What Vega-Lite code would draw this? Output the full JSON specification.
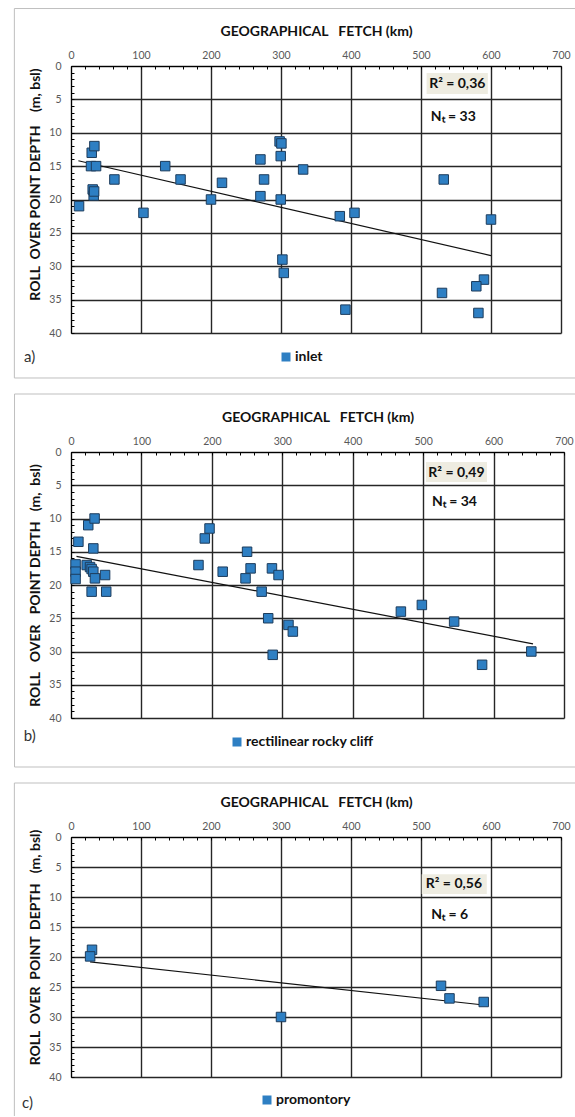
{
  "$schema": "https://vega.github.io/schema/vega-lite/v6.json",
  "autosize": {"type": "pad"},
  "padding": {"left": 13, "top": 8, "right": 0, "bottom": 0},
  "bounds": "flush",
  "spacing": 119,
  "background": "white",
  "resolve": {"scale": {"fill": "independent"}},
  "config": {
    "font": "Lato",
    "view": {"stroke": null},
    "axis": {
      "domainColor": "#000000",
      "domainWidth": 1,
      "gridColor": "#262626",
      "gridWidth": 1.4,
      "tickColor": "#000000",
      "tickWidth": 1,
      "labelFont": "Lato",
      "labelFontSize": 10.5,
      "labelColor": "#595959",
      "labelFlush": false,
      "labelOverlap": false,
      "titleFont": "Lato",
      "titleFontSize": 14,
      "titleFontWeight": "bold",
      "titleColor": "#111111"
    },
    "legend": {
      "orient": "none",
      "title": null,
      "padding": 0,
      "symbolType": "square",
      "symbolSize": 81,
      "symbolStrokeWidth": 0,
      "symbolStrokeColor": "transparent",
      "labelFont": "Lato",
      "labelFontSize": 14,
      "labelFontWeight": "bold",
      "labelColor": "#111111",
      "labelOffset": 2
    }
  },
  "datasets": {
    "points": [
      {"panel": "a", "type": "inlet", "fetch": 11.5, "depth": 21.0},
      {"panel": "a", "type": "inlet", "fetch": 29.6, "depth": 13.0},
      {"panel": "a", "type": "inlet", "fetch": 33.4, "depth": 12.0},
      {"panel": "a", "type": "inlet", "fetch": 28.6, "depth": 15.0},
      {"panel": "a", "type": "inlet", "fetch": 35.8, "depth": 15.0},
      {"panel": "a", "type": "inlet", "fetch": 31.0, "depth": 18.5},
      {"panel": "a", "type": "inlet", "fetch": 32.4, "depth": 19.4},
      {"panel": "a", "type": "inlet", "fetch": 33.0, "depth": 18.8},
      {"panel": "a", "type": "inlet", "fetch": 62.0, "depth": 17.0},
      {"panel": "a", "type": "inlet", "fetch": 103.5, "depth": 22.0},
      {"panel": "a", "type": "inlet", "fetch": 134.6, "depth": 15.0},
      {"panel": "a", "type": "inlet", "fetch": 156.5, "depth": 17.0},
      {"panel": "a", "type": "inlet", "fetch": 200.0, "depth": 20.0},
      {"panel": "a", "type": "inlet", "fetch": 215.7, "depth": 17.5},
      {"panel": "a", "type": "inlet", "fetch": 270.6, "depth": 14.0},
      {"panel": "a", "type": "inlet", "fetch": 275.8, "depth": 17.0},
      {"panel": "a", "type": "inlet", "fetch": 270.6, "depth": 19.5},
      {"panel": "a", "type": "inlet", "fetch": 298.0, "depth": 11.3},
      {"panel": "a", "type": "inlet", "fetch": 300.6, "depth": 11.6},
      {"panel": "a", "type": "inlet", "fetch": 299.6, "depth": 13.5},
      {"panel": "a", "type": "inlet", "fetch": 299.6, "depth": 20.0},
      {"panel": "a", "type": "inlet", "fetch": 331.6, "depth": 15.5},
      {"panel": "a", "type": "inlet", "fetch": 302.0, "depth": 29.0},
      {"panel": "a", "type": "inlet", "fetch": 304.0, "depth": 31.0},
      {"panel": "a", "type": "inlet", "fetch": 384.0, "depth": 22.5},
      {"panel": "a", "type": "inlet", "fetch": 405.0, "depth": 22.0},
      {"panel": "a", "type": "inlet", "fetch": 392.0, "depth": 36.5},
      {"panel": "a", "type": "inlet", "fetch": 532.5, "depth": 17.0},
      {"panel": "a", "type": "inlet", "fetch": 530.0, "depth": 34.0},
      {"panel": "a", "type": "inlet", "fetch": 600.0, "depth": 23.0},
      {"panel": "a", "type": "inlet", "fetch": 590.0, "depth": 32.0},
      {"panel": "a", "type": "inlet", "fetch": 579.0, "depth": 33.0},
      {"panel": "a", "type": "inlet", "fetch": 582.0, "depth": 37.0},

      {"panel": "b", "type": "rectilinear rocky cliff", "fetch": 10.5, "depth": 13.5},
      {"panel": "b", "type": "rectilinear rocky cliff", "fetch": 24.5, "depth": 11.0},
      {"panel": "b", "type": "rectilinear rocky cliff", "fetch": 33.5, "depth": 10.0},
      {"panel": "b", "type": "rectilinear rocky cliff", "fetch": 31.7, "depth": 14.5},
      {"panel": "b", "type": "rectilinear rocky cliff", "fetch": 6.5, "depth": 16.9},
      {"panel": "b", "type": "rectilinear rocky cliff", "fetch": 6.5, "depth": 18.0},
      {"panel": "b", "type": "rectilinear rocky cliff", "fetch": 6.5, "depth": 19.1},
      {"panel": "b", "type": "rectilinear rocky cliff", "fetch": 22.3, "depth": 17.0},
      {"panel": "b", "type": "rectilinear rocky cliff", "fetch": 27.0, "depth": 17.3},
      {"panel": "b", "type": "rectilinear rocky cliff", "fetch": 29.3, "depth": 17.6},
      {"panel": "b", "type": "rectilinear rocky cliff", "fetch": 31.7, "depth": 18.0},
      {"panel": "b", "type": "rectilinear rocky cliff", "fetch": 34.0, "depth": 19.0},
      {"panel": "b", "type": "rectilinear rocky cliff", "fetch": 29.3, "depth": 21.0},
      {"panel": "b", "type": "rectilinear rocky cliff", "fetch": 48.4, "depth": 18.5},
      {"panel": "b", "type": "rectilinear rocky cliff", "fetch": 50.0, "depth": 21.0},
      {"panel": "b", "type": "rectilinear rocky cliff", "fetch": 181.0, "depth": 17.0},
      {"panel": "b", "type": "rectilinear rocky cliff", "fetch": 190.0, "depth": 13.0},
      {"panel": "b", "type": "rectilinear rocky cliff", "fetch": 196.7, "depth": 11.5},
      {"panel": "b", "type": "rectilinear rocky cliff", "fetch": 215.4, "depth": 18.0},
      {"panel": "b", "type": "rectilinear rocky cliff", "fetch": 250.0, "depth": 15.0},
      {"panel": "b", "type": "rectilinear rocky cliff", "fetch": 247.8, "depth": 19.0},
      {"panel": "b", "type": "rectilinear rocky cliff", "fetch": 255.0, "depth": 17.5},
      {"panel": "b", "type": "rectilinear rocky cliff", "fetch": 270.7, "depth": 21.0},
      {"panel": "b", "type": "rectilinear rocky cliff", "fetch": 285.3, "depth": 17.5},
      {"panel": "b", "type": "rectilinear rocky cliff", "fetch": 294.7, "depth": 18.5},
      {"panel": "b", "type": "rectilinear rocky cliff", "fetch": 280.0, "depth": 25.0},
      {"panel": "b", "type": "rectilinear rocky cliff", "fetch": 286.4, "depth": 30.5},
      {"panel": "b", "type": "rectilinear rocky cliff", "fetch": 308.8, "depth": 26.0},
      {"panel": "b", "type": "rectilinear rocky cliff", "fetch": 315.0, "depth": 27.0},
      {"panel": "b", "type": "rectilinear rocky cliff", "fetch": 468.4, "depth": 24.0},
      {"panel": "b", "type": "rectilinear rocky cliff", "fetch": 498.2, "depth": 23.0},
      {"panel": "b", "type": "rectilinear rocky cliff", "fetch": 544.0, "depth": 25.5},
      {"panel": "b", "type": "rectilinear rocky cliff", "fetch": 583.7, "depth": 32.0},
      {"panel": "b", "type": "rectilinear rocky cliff", "fetch": 653.6, "depth": 30.0},

      {"panel": "c", "type": "promontory", "fetch": 30.0, "depth": 18.8},
      {"panel": "c", "type": "promontory", "fetch": 27.3, "depth": 19.9},
      {"panel": "c", "type": "promontory", "fetch": 300.0, "depth": 30.0},
      {"panel": "c", "type": "promontory", "fetch": 528.6, "depth": 24.8},
      {"panel": "c", "type": "promontory", "fetch": 540.7, "depth": 26.9},
      {"panel": "c", "type": "promontory", "fetch": 589.6, "depth": 27.5}
    ],
    "trend": [
      {"panel": "a", "fetch": 10.5, "depth": 14.2},
      {"panel": "a", "fetch": 600.0, "depth": 28.4},
      {"panel": "b", "fetch": 7.8, "depth": 15.7},
      {"panel": "b", "fetch": 656.0, "depth": 28.85},
      {"panel": "c", "fetch": 27.3, "depth": 20.8},
      {"panel": "c", "fetch": 589.6, "depth": 28.0}
    ]
  },
  "vconcat": [
    {
      "width": 490,
      "height": 267,
      "resolve": {"axis": {"x": "independent", "y": "independent"}},
      "layer": [
        {
          "data": {"name": "points"},
          "transform": [{"filter": "datum.panel === 'a'"}],
          "mark": {"type": "point", "shape": "square", "filled": true, "size": 90, "opacity": 0},
          "encoding": {
            "x": {
              "field": "fetch", "type": "quantitative",
              "scale": {"domain": [0, 700], "nice": false, "zero": false},
              "axis": {
                "orient": "top",
                "title": "GEOGRAPHICAL\u00a0\u00a0\u00a0FETCH (km)",
                "values": [0, 20, 40, 60, 80, 100, 120, 140, 160, 180, 200, 220, 240, 260, 280, 300, 320, 340, 360, 380, 400, 420, 440, 460, 480, 500, 520, 540, 560, 580, 600, 620, 640, 660, 680, 700],
                "labelExpr": "datum.value % 100 === 0 ? datum.label : ''",
                "labelOverlap": false,
                "grid": true,
                "gridOpacity": {"condition": {"test": "datum.value % 100 === 0", "value": 1}, "value": 0},
                "tickSize": -3,
                "labelPadding": 9,
                "titlePadding": 12
              }
            },
            "y": {
              "field": "depth", "type": "quantitative",
              "scale": {"domain": [0, 40], "nice": false, "reverse": true},
              "axis": {
                "title": "ROLL\u00a0\u00a0OVER POINT DEPTH\u00a0\u00a0\u00a0\u00a0(m, bsl)",
                "values": [0, 1, 2, 3, 4, 5, 6, 7, 8, 9, 10, 11, 12, 13, 14, 15, 16, 17, 18, 19, 20, 21, 22, 23, 24, 25, 26, 27, 28, 29, 30, 31, 32, 33, 34, 35, 36, 37, 38, 39, 40],
                "labelExpr": "datum.value % 5 === 0 ? datum.label : ''",
                "labelOverlap": false,
                "grid": true,
                "gridOpacity": {"condition": {"test": "datum.value % 5 === 0", "value": 1}, "value": 0},
                "tickSize": -3,
                "labelPadding": 13,
                "titlePadding": 6,
                "titleY": 118
              }
            },
            "fill": {
              "field": "type", "type": "nominal",
              "scale": {"domain": ["inlet"], "range": ["#2E7FC3"]},
              "legend": {"legendX": 208, "legendY": 284}
            }
          }
        },
        {
          "data": {"values": [{}]},
          "mark": {"type": "rule", "color": "#BFBFBF", "strokeWidth": 1, "clip": false},
          "encoding": {
            "x": {"datum": -80.9, "type": "quantitative", "axis": null},
            "x2": {"datum": 721.4},
            "y": {"datum": -8.61, "type": "quantitative", "axis": null}
          }
        },
        {
          "data": {"values": [{}]},
          "mark": {"type": "rule", "color": "#BFBFBF", "strokeWidth": 1, "clip": false},
          "encoding": {
            "x": {"datum": -80.9, "type": "quantitative", "axis": null},
            "x2": {"datum": 721.4},
            "y": {"datum": 46.74, "type": "quantitative", "axis": null}
          }
        },
        {
          "data": {"values": [{}]},
          "mark": {"type": "rule", "color": "#BFBFBF", "strokeWidth": 1, "clip": false},
          "encoding": {
            "x": {"datum": -80.9, "type": "quantitative", "axis": null},
            "y": {"datum": -8.61, "type": "quantitative", "axis": null},
            "y2": {"datum": 46.74}
          }
        },
        {
          "data": {"values": [{}]},
          "mark": {"type": "rect", "fill": "#EEECE1"},
          "encoding": {
            "x": {"datum": 508, "type": "quantitative", "axis": null},
            "x2": {"datum": 595.5},
            "y": {"datum": 1.05, "type": "quantitative", "axis": null},
            "y2": {"datum": 4.2}
          }
        },
        {
          "data": {"values": [{}]},
          "mark": {"type": "text", "text": "R² = 0,36", "font": "Lato", "fontSize": 14, "fontWeight": "bold", "color": "#111111", "align": "center", "baseline": "middle"},
          "encoding": {
            "x": {"datum": 551.8, "type": "quantitative", "axis": null},
            "y": {"datum": 2.7, "type": "quantitative", "axis": null}
          }
        },
        {
          "data": {"values": [{}]},
          "mark": {"type": "text", "text": "Nₜ = 33", "font": "Lato", "fontSize": 14, "fontWeight": "bold", "color": "#111111", "align": "left", "baseline": "middle"},
          "encoding": {
            "x": {"datum": 514, "type": "quantitative", "axis": null},
            "y": {"datum": 7.6, "type": "quantitative", "axis": null}
          }
        },
        {
          "data": {"values": [{}]},
          "mark": {"type": "text", "text": "a)", "font": "Lato", "fontSize": 15, "color": "#333333", "align": "left", "baseline": "middle", "clip": false},
          "encoding": {
            "x": {"datum": -67, "type": "quantitative", "axis": null},
            "y": {"datum": 43.6, "type": "quantitative", "axis": null}
          }
        },
        {
          "data": {"name": "trend"},
          "transform": [{"filter": "datum.panel === 'a'"}],
          "mark": {"type": "line", "color": "#111111", "strokeWidth": 1.2},
          "encoding": {
            "x": {"field": "fetch", "type": "quantitative", "axis": null},
            "y": {"field": "depth", "type": "quantitative", "axis": null}
          }
        },
        {
          "data": {"name": "points"},
          "transform": [{"filter": "datum.panel === 'a'"}],
          "mark": {"type": "point", "shape": "square", "filled": true, "size": 90, "opacity": 1, "stroke": "#1D3C5C", "strokeWidth": 1, "color": "#2E7FC3"},
          "encoding": {
            "x": {"field": "fetch", "type": "quantitative", "axis": null},
            "y": {"field": "depth", "type": "quantitative", "axis": null}
          }
        }
      ]
    },
    {
      "width": 493,
      "height": 266,
      "resolve": {"axis": {"x": "independent", "y": "independent"}},
      "layer": [
        {
          "data": {"name": "points"},
          "transform": [{"filter": "datum.panel === 'b'"}],
          "mark": {"type": "point", "shape": "square", "filled": true, "size": 90, "opacity": 0},
          "encoding": {
            "x": {
              "field": "fetch", "type": "quantitative",
              "scale": {"domain": [0, 700], "nice": false, "zero": false},
              "axis": {
                "orient": "top",
                "title": "GEOGRAPHICAL\u00a0\u00a0\u00a0FETCH (km)",
                "values": [0, 20, 40, 60, 80, 100, 120, 140, 160, 180, 200, 220, 240, 260, 280, 300, 320, 340, 360, 380, 400, 420, 440, 460, 480, 500, 520, 540, 560, 580, 600, 620, 640, 660, 680, 700],
                "labelExpr": "datum.value % 100 === 0 ? datum.label : ''",
                "labelOverlap": false,
                "grid": true,
                "gridOpacity": {"condition": {"test": "datum.value % 100 === 0", "value": 1}, "value": 0},
                "tickSize": -3,
                "labelPadding": 9,
                "titlePadding": 12
              }
            },
            "y": {
              "field": "depth", "type": "quantitative",
              "scale": {"domain": [0, 40], "nice": false, "reverse": true},
              "axis": {
                "title": "ROLL\u00a0\u00a0\u00a0OVER\u00a0\u00a0\u00a0POINT DEPTH\u00a0\u00a0\u00a0(m,\u00a0\u00a0bsl)",
                "values": [0, 1, 2, 3, 4, 5, 6, 7, 8, 9, 10, 11, 12, 13, 14, 15, 16, 17, 18, 19, 20, 21, 22, 23, 24, 25, 26, 27, 28, 29, 30, 31, 32, 33, 34, 35, 36, 37, 38, 39, 40],
                "labelExpr": "datum.value % 5 === 0 ? datum.label : ''",
                "labelOverlap": false,
                "grid": true,
                "gridOpacity": {"condition": {"test": "datum.value % 5 === 0", "value": 1}, "value": 0},
                "tickSize": -3,
                "labelPadding": 13,
                "titlePadding": 6
              }
            },
            "fill": {
              "field": "type", "type": "nominal",
              "scale": {"domain": ["rectilinear rocky cliff"], "range": ["#2E7FC3"]},
              "legend": {"legendX": 159, "legendY": 283}
            }
          }
        },
        {
          "data": {"values": [{}]},
          "mark": {"type": "rule", "color": "#BFBFBF", "strokeWidth": 1, "clip": false},
          "encoding": {
            "x": {"datum": -80.2, "type": "quantitative", "axis": null},
            "x2": {"datum": 715.6},
            "y": {"datum": -8.72, "type": "quantitative", "axis": null}
          }
        },
        {
          "data": {"values": [{}]},
          "mark": {"type": "rule", "color": "#BFBFBF", "strokeWidth": 1, "clip": false},
          "encoding": {
            "x": {"datum": -80.2, "type": "quantitative", "axis": null},
            "x2": {"datum": 715.6},
            "y": {"datum": 47.37, "type": "quantitative", "axis": null}
          }
        },
        {
          "data": {"values": [{}]},
          "mark": {"type": "rule", "color": "#BFBFBF", "strokeWidth": 1, "clip": false},
          "encoding": {
            "x": {"datum": -80.2, "type": "quantitative", "axis": null},
            "y": {"datum": -8.72, "type": "quantitative", "axis": null},
            "y2": {"datum": 47.37}
          }
        },
        {
          "data": {"values": [{}]},
          "mark": {"type": "rect", "fill": "#EEECE1"},
          "encoding": {
            "x": {"datum": 504, "type": "quantitative", "axis": null},
            "x2": {"datum": 590.7},
            "y": {"datum": 1.5, "type": "quantitative", "axis": null},
            "y2": {"datum": 4.5}
          }
        },
        {
          "data": {"values": [{}]},
          "mark": {"type": "text", "text": "R² = 0,49", "font": "Lato", "fontSize": 14, "fontWeight": "bold", "color": "#111111", "align": "center", "baseline": "middle"},
          "encoding": {
            "x": {"datum": 547.3, "type": "quantitative", "axis": null},
            "y": {"datum": 3.1, "type": "quantitative", "axis": null}
          }
        },
        {
          "data": {"values": [{}]},
          "mark": {"type": "text", "text": "Nₜ = 34", "font": "Lato", "fontSize": 14, "fontWeight": "bold", "color": "#111111", "align": "left", "baseline": "middle"},
          "encoding": {
            "x": {"datum": 512.6, "type": "quantitative", "axis": null},
            "y": {"datum": 7.5, "type": "quantitative", "axis": null}
          }
        },
        {
          "data": {"values": [{}]},
          "mark": {"type": "text", "text": "b)", "font": "Lato", "fontSize": 15, "color": "#333333", "align": "left", "baseline": "middle", "clip": false},
          "encoding": {
            "x": {"datum": -67, "type": "quantitative", "axis": null},
            "y": {"datum": 42.7, "type": "quantitative", "axis": null}
          }
        },
        {
          "data": {"name": "trend"},
          "transform": [{"filter": "datum.panel === 'b'"}],
          "mark": {"type": "line", "color": "#111111", "strokeWidth": 1.2},
          "encoding": {
            "x": {"field": "fetch", "type": "quantitative", "axis": null},
            "y": {"field": "depth", "type": "quantitative", "axis": null}
          }
        },
        {
          "data": {"name": "points"},
          "transform": [{"filter": "datum.panel === 'b'"}],
          "mark": {"type": "point", "shape": "square", "filled": true, "size": 90, "opacity": 1, "stroke": "#1D3C5C", "strokeWidth": 1, "color": "#2E7FC3"},
          "encoding": {
            "x": {"field": "fetch", "type": "quantitative", "axis": null},
            "y": {"field": "depth", "type": "quantitative", "axis": null}
          }
        }
      ]
    },
    {
      "width": 490,
      "height": 240,
      "resolve": {"axis": {"x": "independent", "y": "independent"}},
      "layer": [
        {
          "data": {"name": "points"},
          "transform": [{"filter": "datum.panel === 'c'"}],
          "mark": {"type": "point", "shape": "square", "filled": true, "size": 90, "opacity": 0},
          "encoding": {
            "x": {
              "field": "fetch", "type": "quantitative",
              "scale": {"domain": [0, 700], "nice": false, "zero": false},
              "axis": {
                "orient": "top",
                "title": "GEOGRAPHICAL\u00a0\u00a0\u00a0FETCH (km)",
                "values": [0, 20, 40, 60, 80, 100, 120, 140, 160, 180, 200, 220, 240, 260, 280, 300, 320, 340, 360, 380, 400, 420, 440, 460, 480, 500, 520, 540, 560, 580, 600, 620, 640, 660, 680, 700],
                "labelExpr": "datum.value % 100 === 0 ? datum.label : ''",
                "labelOverlap": false,
                "grid": true,
                "gridOpacity": {"condition": {"test": "datum.value % 100 === 0", "value": 1}, "value": 0},
                "tickSize": -3,
                "labelPadding": 9,
                "titlePadding": 12
              }
            },
            "y": {
              "field": "depth", "type": "quantitative",
              "scale": {"domain": [0, 40], "nice": false, "reverse": true},
              "axis": {
                "title": "ROLL\u00a0\u00a0OVER\u00a0\u00a0POINT\u00a0\u00a0DEPTH\u00a0\u00a0\u00a0(m, bsl)",
                "values": [0, 1, 2, 3, 4, 5, 6, 7, 8, 9, 10, 11, 12, 13, 14, 15, 16, 17, 18, 19, 20, 21, 22, 23, 24, 25, 26, 27, 28, 29, 30, 31, 32, 33, 34, 35, 36, 37, 38, 39, 40],
                "labelExpr": "datum.value % 5 === 0 ? datum.label : ''",
                "labelOverlap": false,
                "grid": true,
                "gridOpacity": {"condition": {"test": "datum.value % 5 === 0", "value": 1}, "value": 0},
                "tickSize": -3,
                "labelPadding": 13,
                "titlePadding": 6,
                "titleY": 110
              }
            },
            "fill": {
              "field": "type", "type": "nominal",
              "scale": {"domain": ["promontory"], "range": ["#2E7FC3"]},
              "legend": {"legendX": 189, "legendY": 256}
            }
          }
        },
        {
          "data": {"values": [{}]},
          "mark": {"type": "rule", "color": "#BFBFBF", "strokeWidth": 1, "clip": false},
          "encoding": {
            "x": {"datum": -80.9, "type": "quantitative", "axis": null},
            "x2": {"datum": 721.4},
            "y": {"datum": -9.0, "type": "quantitative", "axis": null}
          }
        },
        {
          "data": {"values": [{}]},
          "mark": {"type": "rule", "color": "#BFBFBF", "strokeWidth": 1, "clip": false},
          "encoding": {
            "x": {"datum": -80.9, "type": "quantitative", "axis": null},
            "y": {"datum": -9.0, "type": "quantitative", "axis": null},
            "y2": {"datum": 46.5}
          }
        },
        {
          "data": {"values": [{}]},
          "mark": {"type": "rect", "fill": "#EEECE1"},
          "encoding": {
            "x": {"datum": 501, "type": "quantitative", "axis": null},
            "x2": {"datum": 594},
            "y": {"datum": 6.2, "type": "quantitative", "axis": null},
            "y2": {"datum": 9.5}
          }
        },
        {
          "data": {"values": [{}]},
          "mark": {"type": "text", "text": "R² = 0,56", "font": "Lato", "fontSize": 14, "fontWeight": "bold", "color": "#111111", "align": "center", "baseline": "middle"},
          "encoding": {
            "x": {"datum": 547, "type": "quantitative", "axis": null},
            "y": {"datum": 7.8, "type": "quantitative", "axis": null}
          }
        },
        {
          "data": {"values": [{}]},
          "mark": {"type": "text", "text": "Nₜ = 6", "font": "Lato", "fontSize": 14, "fontWeight": "bold", "color": "#111111", "align": "left", "baseline": "middle"},
          "encoding": {
            "x": {"datum": 514.6, "type": "quantitative", "axis": null},
            "y": {"datum": 13.0, "type": "quantitative", "axis": null}
          }
        },
        {
          "data": {"values": [{}]},
          "mark": {"type": "text", "text": "c)", "font": "Lato", "fontSize": 15, "color": "#333333", "align": "left", "baseline": "middle", "clip": false},
          "encoding": {
            "x": {"datum": -70, "type": "quantitative", "axis": null},
            "y": {"datum": 44.3, "type": "quantitative", "axis": null}
          }
        },
        {
          "data": {"name": "trend"},
          "transform": [{"filter": "datum.panel === 'c'"}],
          "mark": {"type": "line", "color": "#111111", "strokeWidth": 1.2},
          "encoding": {
            "x": {"field": "fetch", "type": "quantitative", "axis": null},
            "y": {"field": "depth", "type": "quantitative", "axis": null}
          }
        },
        {
          "data": {"name": "points"},
          "transform": [{"filter": "datum.panel === 'c'"}],
          "mark": {"type": "point", "shape": "square", "filled": true, "size": 90, "opacity": 1, "stroke": "#1D3C5C", "strokeWidth": 1, "color": "#2E7FC3"},
          "encoding": {
            "x": {"field": "fetch", "type": "quantitative", "axis": null},
            "y": {"field": "depth", "type": "quantitative", "axis": null}
          }
        }
      ]
    }
  ]
}
